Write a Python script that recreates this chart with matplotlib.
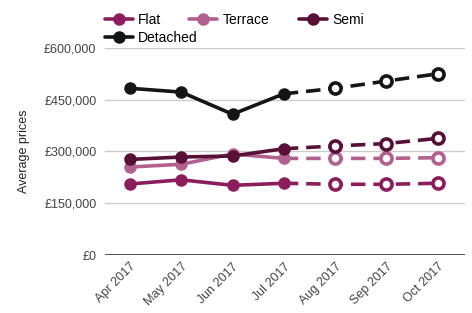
import matplotlib.pyplot as plt
from matplotlib.ticker import FuncFormatter

plt.rcParams['font.family'] = ['Liberation Sans', 'DejaVu Sans']

months = ["Apr 2017", "May 2017", "Jun 2017", "Jul 2017", "Aug 2017", "Sep 2017", "Oct 2017"]
flat = [206000, 218000, 202000, 208000, 205000, 205000, 208000]
terrace = [255000, 263000, 293000, 280000, 280000, 280000, 282000]
semi = [277000, 284000, 287000, 308000, 316000, 323000, 338000]
detached = [483000, 472000, 408000, 467000, 483000, 504000, 525000]
n_actual = 4  # Apr-Jul are actual values, the rest are forecasts (dashed)

series = [
    ("Flat", flat, "#8c1d5d"),
    ("Terrace", terrace, "#b2608f"),
    ("Semi", semi, "#581038"),
    ("Detached", detached, "#151515"),
]
# where each legend entry starts (pixels from left, from top) - wraps like html
legend_pos = [(105, 20), (189, 20), (299, 20), (105, 38)]

fig = plt.figure(figsize=(4.72, 3.13), dpi=100)
ax = fig.add_axes([0.222, 0.185, 0.763, 0.662])

x = list(range(len(months)))
handles = []
for name, vals, col in series:
    k = n_actual
    h, = ax.plot(x[:k], vals[:k], color=col, lw=2.6, marker="o", ms=8,
                 solid_capstyle="round", zorder=3, label=name)
    ax.plot(x[k - 1:], vals[k - 1:], color=col, lw=2.6, ls=(0, (4, 2.2)), zorder=2)
    ax.plot(x[k:], vals[k:], ls="none", marker="o", ms=8, mfc="white",
            mec=col, mew=2.6, zorder=4)
    handles.append(h)

ax.set_ylim(0, 600000)
ax.set_xlim(-0.49, 6.53)
ax.set_yticks([0, 150000, 300000, 450000, 600000])
ax.yaxis.set_major_formatter(FuncFormatter(lambda v, p: "£0" if v == 0 else "£{:,.0f}".format(v)))
ax.set_xticks(x)
ax.set_xticklabels(months, rotation=45, ha="right", rotation_mode="anchor")
ax.grid(axis="y", color="#cccccc", lw=1)
ax.set_axisbelow(True)
ax.axhline(0, color="#333333", lw=1.2, zorder=1)
for s in ax.spines.values():
    s.set_visible(False)
ax.tick_params(axis="both", length=0, labelsize=9, colors="#444444", pad=6)
ax.tick_params(axis="x", pad=4)
ax.set_ylabel("Average prices", fontsize=9, color="#222222", labelpad=10)

for h, (name, _, _), (px, py) in zip(handles, series, legend_pos):
    fig.legend(handles=[h], labels=[name], loc="center left", frameon=False,
               fontsize=10, handlelength=2.0, handletextpad=0.4,
               borderaxespad=0, borderpad=0,
               bbox_to_anchor=(px / 472, 1 - py / 313))

fig.savefig("out.png", dpi=100)
